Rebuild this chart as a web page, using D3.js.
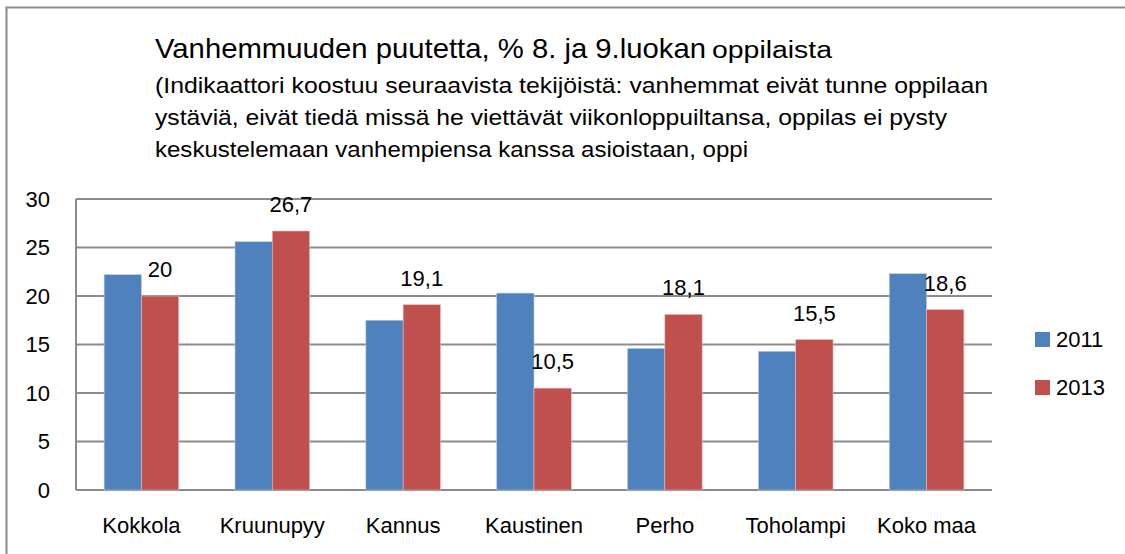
<!DOCTYPE html>
<html>
<head>
<meta charset="utf-8">
<script src="https://cdn.jsdelivr.net/npm/d3@7"></script>
<style>
  body { margin: 0; background: #fff; }
  svg { display: block; font-family: "Liberation Sans", Arial, sans-serif; }
</style>
</head>
<body>
<div id="chart"></div>
<script>
// data
const categories = ["Kokkola", "Kruunupyy", "Kannus", "Kaustinen", "Perho", "Toholampi", "Koko maa"];
const seriesNames = ["2011", "2013"];
const values2011 = [22.2, 25.6, 17.5, 20.3, 14.6, 14.3, 22.3];
const values2013 = [20, 26.7, 19.1, 10.5, 18.1, 15.5, 18.6];
const yTicks = [0, 5, 10, 15, 20, 25, 30];
const titleMain = "Vanhemmuuden puutetta, % 8. ja 9.luokan";
const titleTail = "oppilaista";
const subtitleLines = [
    "(Indikaattori koostuu seuraavista tekijöistä: vanhemmat eivät tunne oppilaan",
    "ystäviä, eivät tiedä missä he viettävät viikonloppuiltansa, oppilas ei pysty",
    "keskustelemaan vanhempiensa kanssa asioistaan, oppi"
];

const COLORS = ["#4F81BD", "#C0504D"];
const width = 1125, height = 554;

const svg = d3.select("#chart").append("svg")
    .attr("width", width)
    .attr("height", height);

// outer frame (only left and top edges are visible)
svg.append("rect")
    .attr("x", 6.5).attr("y", 7.5)
    .attr("width", 1300).attr("height", 700)
    .attr("fill", "none")
    .attr("stroke", "#8c8c8c")
    .attr("stroke-width", 2);

// titles
svg.append("text")
    .attr("x", 155).attr("y", 58)
    .attr("font-size", 28)
    .attr("textLength", 551).attr("lengthAdjust", "spacingAndGlyphs")
    .text(titleMain);
svg.append("text")
    .attr("x", 712).attr("y", 58)
    .attr("font-size", 23)
    .attr("textLength", 120).attr("lengthAdjust", "spacingAndGlyphs")
    .text(titleTail);

const subLengths = [833, 792, 593];
svg.selectAll(".sub")
    .data(subtitleLines)
    .enter().append("text")
    .attr("class", "sub")
    .attr("x", 155)
    .attr("y", (d, i) => 93 + i * 32)
    .attr("font-size", 22)
    .attr("textLength", (d, i) => subLengths[i])
    .attr("lengthAdjust", "spacingAndGlyphs")
    .text(d => d);

// scales
const marginLeft = 76, plotRight = 992, plotTop = 199, plotBottom = 490;
const x0 = d3.scaleBand().domain(categories).range([marginLeft, plotRight]);
const groupWidth = x0.bandwidth() * 0.57;
const x1 = d3.scaleBand().domain(seriesNames).range([0, groupWidth]);
const y = d3.scaleLinear().domain([0, 30]).range([plotBottom, plotTop]);

// gridlines
svg.append("g")
    .selectAll("line")
    .data(yTicks)
    .enter().append("line")
    .attr("x1", marginLeft).attr("x2", plotRight)
    .attr("y1", d => y(d)).attr("y2", d => y(d))
    .attr("stroke", "#8c8c8c")
    .attr("stroke-width", 2);

// left axis line
svg.append("line")
    .attr("x1", marginLeft).attr("x2", marginLeft)
    .attr("y1", plotTop).attr("y2", plotBottom)
    .attr("stroke", "#8c8c8c")
    .attr("stroke-width", 2);

// y tick labels
svg.append("g")
    .selectAll("text")
    .data(yTicks)
    .enter().append("text")
    .attr("x", 50)
    .attr("y", d => y(d))
    .attr("dy", "0.36em")
    .attr("text-anchor", "end")
    .attr("font-size", 22)
    .text(d => d);

// bars
const rows = categories.map((c, i) => ({ cat: c, vals: [values2011[i], values2013[i]] }));
const groups = svg.append("g")
    .selectAll("g")
    .data(rows)
    .enter().append("g")
    .attr("transform", d => `translate(${x0(d.cat) + (x0.bandwidth() - groupWidth) / 2},0)`);

groups.selectAll("rect")
    .data(d => d.vals.map((v, j) => ({ s: seriesNames[j], v: v, j: j })))
    .enter().append("rect")
    .attr("x", d => x1(d.s))
    .attr("y", d => y(d.v))
    .attr("width", x1.bandwidth())
    .attr("height", d => y(0) - y(d.v))
    .attr("fill", d => COLORS[d.j])
    .attr("stroke", d => d.j === 0 ? "#b9cde5" : "#e6b9b8")
    .attr("stroke-width", 0.6);

// data labels for 2013
groups.append("text")
    .attr("x", x1("2013") + x1.bandwidth() / 2)
    .attr("y", d => y(d.vals[1]) - 19)
    .attr("text-anchor", "middle")
    .attr("font-size", 22)
    .text(d => String(d.vals[1]).replace(".", ","));

// category labels
svg.append("g")
    .selectAll("text")
    .data(categories)
    .enter().append("text")
    .attr("x", d => x0(d) + x0.bandwidth() / 2)
    .attr("y", 533)
    .attr("text-anchor", "middle")
    .attr("font-size", 22)
    .text(d => d);

// legend
const legend = svg.append("g")
    .selectAll("g")
    .data(seriesNames)
    .enter().append("g")
    .attr("transform", (d, i) => `translate(1035, ${332 + i * 48})`);
legend.append("rect")
    .attr("width", 15).attr("height", 15)
    .attr("fill", (d, i) => COLORS[i]);
legend.append("text")
    .attr("x", 21).attr("y", 15)
    .attr("font-size", 22)
    .text(d => d);
</script>
</body>
</html>
